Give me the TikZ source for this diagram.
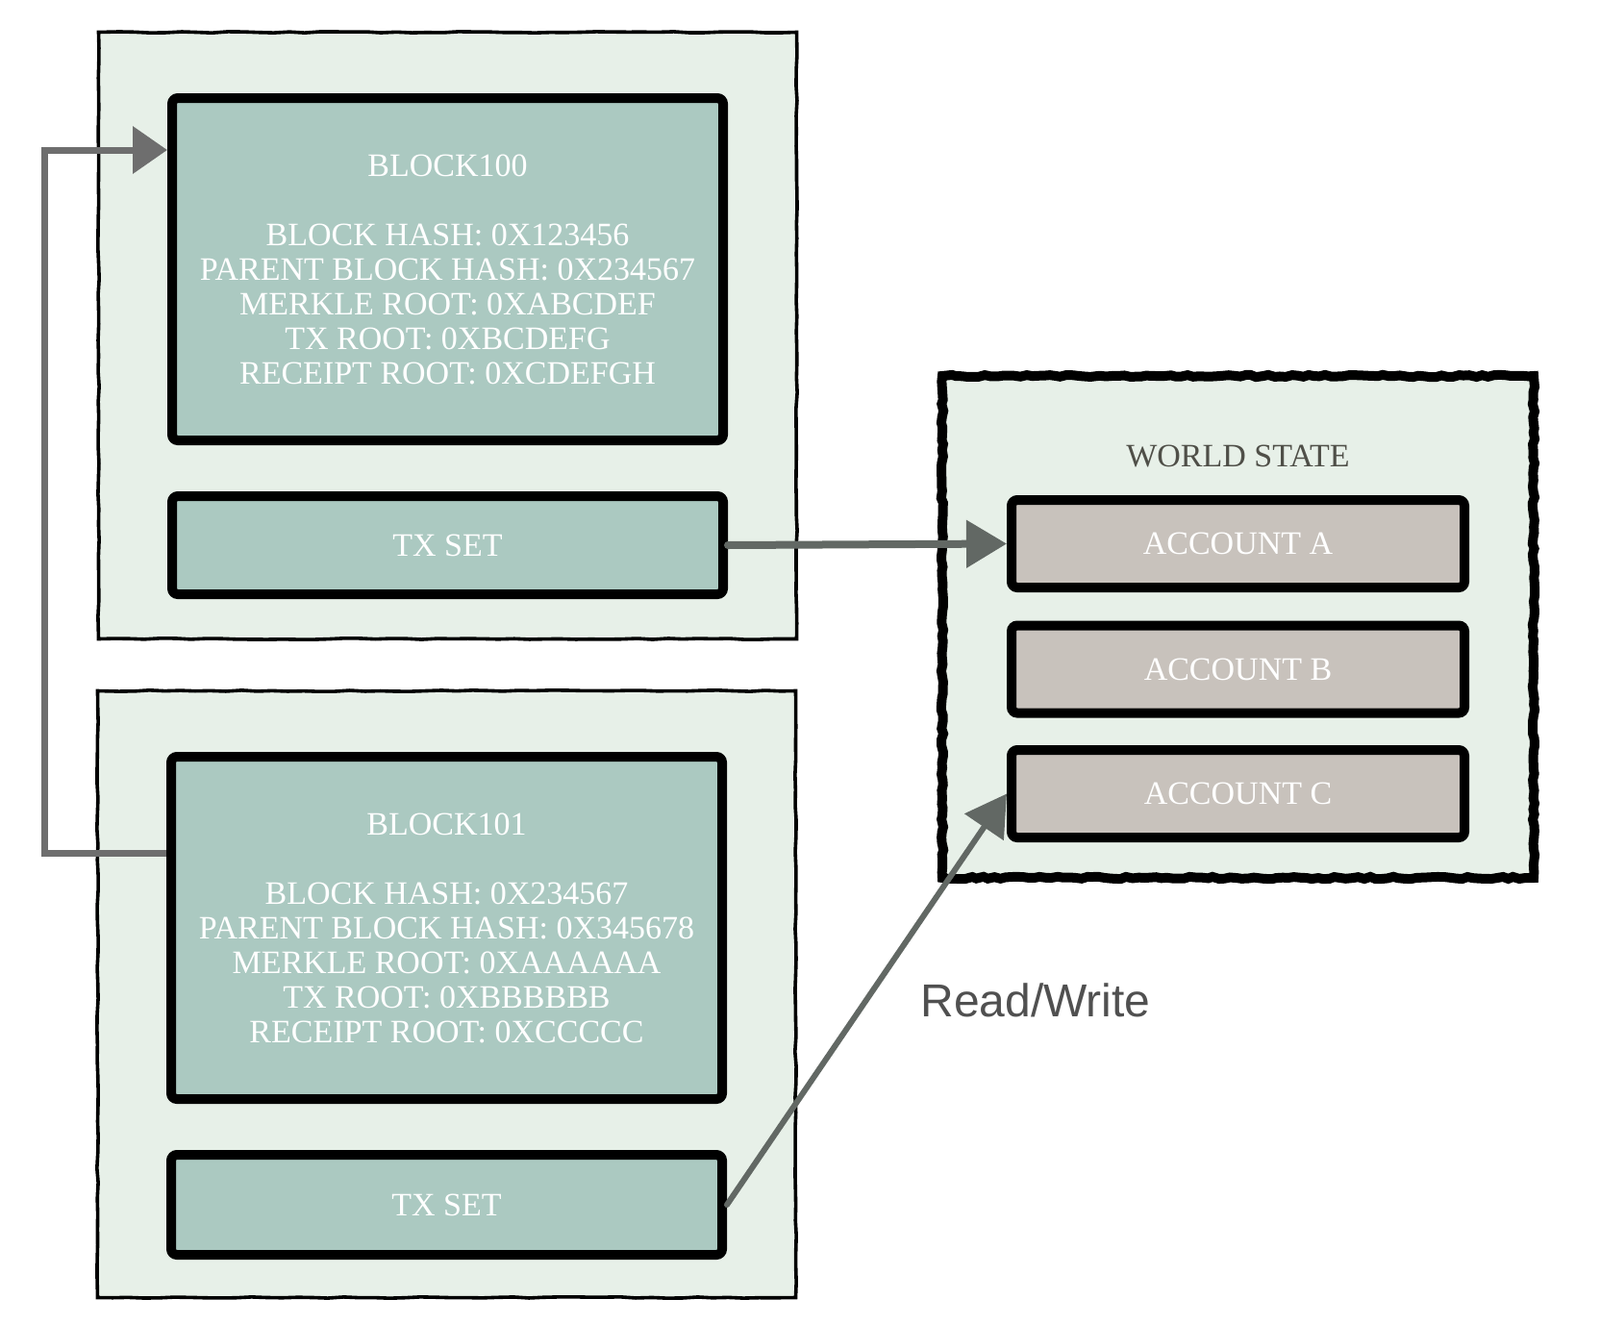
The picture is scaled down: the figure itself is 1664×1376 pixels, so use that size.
\documentclass[tikz,border=0pt]{standalone}
\usepackage{fontspec}
\setmainfont{Liberation Serif}
\newfontfamily\rwfont{Liberation Sans}
\usetikzlibrary{arrows.meta,decorations.pathmorphing,calc}
\definecolor{outerfill}{HTML}{E7F0E8}
\definecolor{innerfill}{HTML}{ABC9C1}
\definecolor{acctfill}{HTML}{C8C2BC}
\definecolor{arrowgray}{HTML}{626864}
\definecolor{loopgray}{HTML}{6E6E6E}
\definecolor{wstext}{HTML}{4F4F48}
\definecolor{rwtext}{HTML}{505050}
\begin{document}
\begin{tikzpicture}[x=0.5pt,y=-0.5pt,
  outerbox/.style={draw=black, line width=1.8pt, fill=outerfill, inner sep=0pt,
    minimum width=363pt, minimum height=315.5pt,
    decorate, decoration={random steps, segment length=8pt, amplitude=0.35pt}},
  blockbox/.style={draw=black, line width=5pt, outer sep=2.5pt, fill=innerfill,
    rounded corners=3pt, inner sep=0pt, minimum width=286.5pt, text=white,
    font=\fontsize{17}{18}\selectfont, align=center},
  acctbox/.style={blockbox, fill=acctfill, minimum width=235.5pt, minimum height=45.5pt},
  worldbox/.style={draw=black, line width=5pt, fill=outerfill, inner sep=0pt,
    minimum width=307.5pt, minimum height=261pt,
    decorate, decoration={random steps, segment length=3pt, amplitude=0.6pt}},
  flow/.style={draw=arrowgray, line width=4pt, line cap=round,
    -{Triangle[length=21pt,width=24pt]}},
  loopflow/.style={draw=loopgray, line width=3.5pt,
    -{Triangle[length=18pt,width=24pt]}},
  wslabel/.style={text=wstext, font=\fontsize{17}{18}\selectfont},
  rwlabel/.style={text=rwtext, font=\rwfont\fontsize{24}{28}\selectfont}
]
\useasboundingbox (0,0) rectangle (1664,1376);

% block 100
\node[outerbox] (o1) at (465.5,349) {};
\node[blockbox, minimum height=178pt] (b100) at (465.5,280)
  {BLOCK100\\[18pt]BLOCK HASH: 0X123456\\PARENT BLOCK HASH: 0X234567\\MERKLE ROOT: 0XABCDEF\\TX ROOT: 0XBCDEFG\\RECEIPT ROOT: 0XCDEFGH};
\node[blockbox, minimum height=51pt] (tx1) at (465.5,567) {TX SET};

% block 101
\node[outerbox] (o2) at (464.5,1034) {};
\node[blockbox, minimum height=178pt] (b101) at (464.5,965)
  {BLOCK101\\[18pt]BLOCK HASH: 0X234567\\PARENT BLOCK HASH: 0X345678\\MERKLE ROOT: 0XAAAAAA\\TX ROOT: 0XBBBBBB\\RECEIPT ROOT: 0XCCCCC};
\node[blockbox, minimum height=52pt] (tx2) at (464.5,1253) {TX SET};

% world state
\node[worldbox] (ws) at (1287.5,652) {};
\node[wslabel] (wst) at (1287.5,474) {WORLD STATE};
\node[acctbox] (accA) at (1287.5,565.5) {ACCOUNT A};
\node[acctbox] (accB) at (1287.5,696) {ACCOUNT B};
\node[acctbox] (accC) at (1287.5,825.5) {ACCOUNT C};

% connectors
\coordinate (l1) at ($(b101.north west)+(0,105)$);
\coordinate (l2) at ($(b100.north west)+(0,59)$);
\coordinate (lx) at (46,0);
\draw[loopflow] (l1) -- (l1 -| lx) -- (l2 -| lx) -- (l2);

\draw[flow] (tx1.east) -- (accA.west);
\draw[flow, line width=3pt] (tx2.east) -- (accC.west);

\node[rwlabel] (rw) at (1077,1040) {Read/Write};
\end{tikzpicture}
\end{document}
